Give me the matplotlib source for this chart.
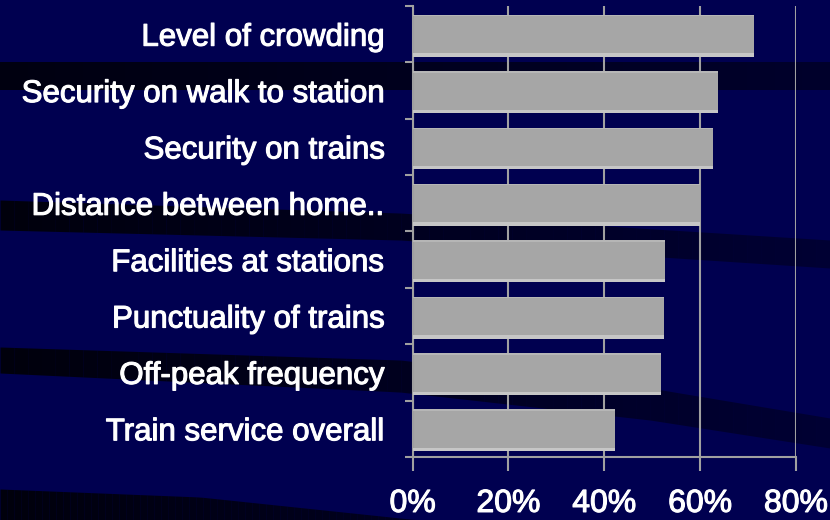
import matplotlib
matplotlib.use('Agg')
import matplotlib.pyplot as plt
import matplotlib.patheffects as pe
import numpy as np

# Data (percent)
categories = ['Level of crowding', 'Security on walk to station', 'Security on trains',
              'Distance between home..', 'Facilities at stations', 'Punctuality of trains',
              'Off-peak frequency', 'Train service overall']
values = [71.2, 63.7, 62.6, 59.9, 52.7, 52.4, 51.8, 42.2]
x_ticks = [0, 20, 40, 60, 80]
x_labels = ['0%', '20%', '40%', '60%', '80%']

navy = '#000050'
grey = '#A0A0A0'
plt.rcParams['font.family'] = ['Liberation Sans', 'DejaVu Sans']

fig = plt.figure(figsize=(8.3, 5.2), dpi=100, facecolor=navy)

# Background swooshes (decoration, in pixel space)
bg = fig.add_axes([0, 0, 1, 1], zorder=0)
bg.set_xlim(0, 830)
bg.set_ylim(520, 0)
bg.axis('off')


def swoosh(xs, tops, bottoms, a0, a1, n=60):
    xx = np.linspace(xs[0], xs[-1], n + 1)
    tt = np.interp(xx, xs, tops)
    bb = np.interp(xx, xs, bottoms)
    for i in range(n):
        a = a0 + (a1 - a0) * i / n
        bg.fill_between(xx[i:i + 2], tt[i:i + 2], bb[i:i + 2], color='black',
                        alpha=a, lw=0, antialiased=False)


swoosh([0, 830], [62, 62], [90, 90], 0.8, 0.45)
swoosh([0, 400, 830], [200, 213, 240], [230, 240, 268], 0.85, 0.35)
swoosh([0, 400, 650, 830], [347, 360, 388, 418], [373, 392, 420, 448], 0.85, 0.35)
swoosh([0, 200, 400, 420], [489, 497, 518, 520], [520, 520, 520, 520], 0.85, 0.6)

# Main chart
ax = fig.add_axes([0.4972, 0.1212, 0.4618, 0.8673], zorder=1)
ax.set_facecolor('none')
ypos = np.arange(len(categories))
yb = ypos + 0.03

ax.barh(yb, values, height=0.74, color='#A6A6A6', zorder=2)
ax.barh(yb + 0.34, values, height=0.06, color='#C6C6C6', zorder=3)
ax.barh(yb - 0.36, values, height=0.025, color='#B6B6B6', zorder=3)

ax.set_xlim(0, 80)
ax.set_ylim(len(categories) - 0.5, -0.5)

thick = [pe.withStroke(linewidth=0.8, foreground='white')]

ax.set_xticks(x_ticks)
ax.set_xticklabels(x_labels, color='white', fontsize=23, path_effects=thick)
ax.tick_params(axis='x', direction='out', length=10, width=1.5, color=grey, pad=13)

ax.set_yticks(ypos)
ax.set_yticklabels(categories, color='white', fontsize=22.5, path_effects=thick)
ax.tick_params(axis='y', which='major', length=0, pad=20)
ax.set_yticks(np.arange(-0.5, len(categories)), minor=True)
ax.tick_params(axis='y', which='minor', direction='out', length=6, width=1.5, color=grey)

ax.set_axisbelow(True)
ax.xaxis.grid(True, color=grey, lw=1.5)
for side in ['top', 'right']:
    ax.spines[side].set_visible(False)
for side in ['left', 'bottom']:
    ax.spines[side].set_color(grey)
    ax.spines[side].set_linewidth(1.5)

fig.savefig('out.png', dpi=100, facecolor=navy)
